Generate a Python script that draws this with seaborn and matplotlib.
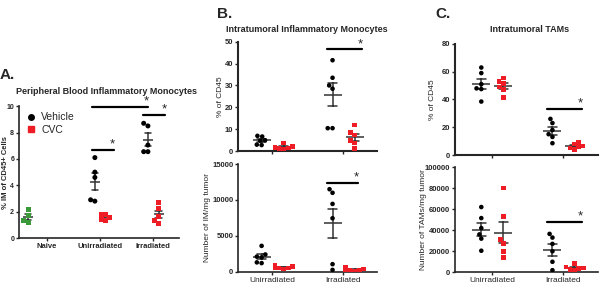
import warnings
import pandas as pd
import matplotlib
matplotlib.use('Agg')
import matplotlib.pyplot as plt
from matplotlib.lines import Line2D
from matplotlib.markers import MarkerStyle
import seaborn as sns

warnings.filterwarnings('ignore')

# ---- data ----
conds_a = ['Naive', 'Unirradiated', 'Irradiated']
conds_bc = ['Unirradiated', 'Irradiated']

# A. peripheral blood IM (% of CD45+)
a_naive = [2.17, 1.69, 1.34, 1.16]
a_unirr_veh = [6.1, 5.0, 4.6, 2.8, 2.9]
a_unirr_cvc = [1.8, 1.75, 1.55, 1.35, 1.4]
a_irr_veh = [8.5, 8.7, 7.05, 6.55, 6.55]
a_irr_cvc = [2.7, 2.25, 1.6, 1.3, 1.1]

# B. intratumoral IM
b1_unirr_veh = [7.0, 6.7, 5.0, 4.8, 2.8, 3.0]
b1_unirr_cvc = [3.8, 2.2, 1.8, 1.5, 1.2, 1.0]
b1_irr_veh = [41.5, 33.5, 30.0, 28.5, 10.5, 10.5]
b1_irr_cvc = [11.9, 8.4, 7.3, 5.0, 3.8, 1.2]

b2_unirr_veh = [3600, 2400, 2000, 2100, 1200, 1300]
b2_unirr_cvc = [900, 700, 600, 500, 400, 500]
b2_irr_veh = [11500, 11000, 9450, 7450, 1050, 250]
b2_irr_cvc = [600, 400, 300, 200, 150, 100]

# C. intratumoral TAMs
c1_unirr_veh = [63, 59, 51, 48, 47.5, 38.5]
c1_unirr_cvc = [55.5, 53, 51.5, 49, 47, 41.5]
c1_irr_veh = [26, 23, 18, 15, 13, 8.5]
c1_irr_cvc = [9.5, 8, 6.5, 6, 5, 4]

c2_unirr_veh = [62000, 51500, 42000, 36000, 32000, 20500]
c2_unirr_cvc = [80000, 53000, 31000, 27500, 20000, 14000]
c2_irr_veh = [36500, 33000, 27000, 20000, 10000, 2000]
c2_irr_cvc = [8500, 5000, 4000, 3500, 2500, 1500]

# significance bars: (x0, x1, y)
sig_a = [(0.85, 1.9, 9.9), (0.85, 1.26, 6.67), (1.81, 2.23, 9.3)]
sig_b1 = [(0.77, 1.27, 46.4)]
sig_b2 = [(0.77, 1.21, 12430)]
sig_c1 = [(0.77, 1.27, 33)]
sig_c2 = [(0.77, 1.27, 48000)]

RED = '#ee1c24'
GREEN = '#3a9a3a'
palette = {'Naive': GREEN, 'Vehicle': 'black', 'CVC': RED}

sns.set_style('ticks')
plt.rcParams['font.family'] = ['Liberation Sans', 'DejaVu Sans']

fig = plt.figure(figsize=(6, 2.9), dpi=100)

circle = MarkerStyle('o')
circle_path = circle.get_path().transformed(circle.get_transform())


def build(groups, offsets):
	rows = []
	for cond_i, treat, vals in groups:
		for v in vals:
			rows.append({'treat': treat, 'pos': cond_i + offsets[treat], 'val': v})
	return pd.DataFrame(rows)


def draw(ax, df, size, mean_ms, capsize):
	sns.swarmplot(data=df, x='pos', y='val', hue='treat', palette=palette,
		native_scale=True, orient='x', marker='s', size=size, linewidth=0,
		legend=False, ax=ax)
	# vehicle groups get round markers
	for coll in ax.collections:
		fc = coll.get_facecolor()
		if len(fc) and tuple(fc[0][:3]) == (0.0, 0.0, 0.0):
			coll.set_paths([circle_path])
	sns.pointplot(data=df, x='pos', y='val', native_scale=True, orient='x',
		errorbar='se', color='#333333', markers='_', linestyles='none',
		markersize=mean_ms, markeredgewidth=1.1, capsize=capsize,
		err_kws={'linewidth': 1.1}, ax=ax)
	ax.set_xlabel('')
	ax.set_ylabel('')


def sig(ax, bars, dy, fs=9.5):
	for x0, x1, y in bars:
		ax.plot([x0, x1], [y, y], color='black', lw=1.6, clip_on=False)
		ax.text(x1 - 0.03, y + dy, '*', ha='center', va='center', fontsize=fs, clip_on=False)


def style_axes(ax, lw=1.2, fs=5.5):
	sns.despine(ax=ax)
	for s in ['left', 'bottom']:
		ax.spines[s].set_linewidth(lw)
	ax.tick_params(length=2.5, width=1, pad=1)
	for lab in ax.get_yticklabels():
		lab.set_fontsize(fs)
		lab.set_fontweight('bold')


# ---- panel A ----
axA = fig.add_axes([0.0317, 0.179, 0.267, 0.455])
dfA = build([(0, 'Naive', a_naive), (1, 'Vehicle', a_unirr_veh), (1, 'CVC', a_unirr_cvc),
	(2, 'Vehicle', a_irr_veh), (2, 'CVC', a_irr_cvc)],
	{'Naive': -0.36, 'Vehicle': -0.1, 'CVC': 0.1})
draw(axA, dfA, 3.6, 7, 0.6)
axA.set_xlim(-0.53, 2.49)
axA.set_ylim(0, 10)
axA.set_yticks(range(0, 11, 2))
axA.set_xticks(range(3))
axA.set_xticklabels(conds_a, fontsize=5.5, fontweight='bold')
style_axes(axA, fs=5)
axA.set_ylabel('% IM of CD45+ Cells', fontsize=5.5, fontweight='bold')
axA.yaxis.set_label_coords(-0.062, 0.5)
sig(axA, sig_a, 0.45)
handles = [Line2D([], [], marker='o', color='black', ls='none', ms=4),
	Line2D([], [], marker='s', color=RED, ls='none', ms=4)]
axA.legend(handles, ['Vehicle', 'CVC'], loc='upper left', frameon=False, fontsize=7.5,
	handletextpad=0.0, borderaxespad=0.2, labelspacing=0.25, bbox_to_anchor=(-0.03, 1.0))

# ---- panel B ----
off_bc = {'Vehicle': -0.15, 'CVC': 0.16}
axB1 = fig.add_axes([0.397, 0.4786, 0.2317, 0.378])
dfB1 = build([(0, 'Vehicle', b1_unirr_veh), (0, 'CVC', b1_unirr_cvc),
	(1, 'Vehicle', b1_irr_veh), (1, 'CVC', b1_irr_cvc)], off_bc)
draw(axB1, dfB1, 3.3, 13, 0.4)
axB1.set_xlim(-0.48, 1.48)
axB1.set_ylim(0, 50)
axB1.set_yticks(range(0, 51, 10))
axB1.set_xticks([0, 1])
axB1.set_xticklabels([])
style_axes(axB1, 1.5)
axB1.set_ylabel('% of CD45', fontsize=6)
axB1.yaxis.set_label_coords(-0.10, 0.5)
sig(axB1, sig_b1, 2.5)

axB2 = fig.add_axes([0.397, 0.0631, 0.2317, 0.371])
dfB2 = build([(0, 'Vehicle', b2_unirr_veh), (0, 'CVC', b2_unirr_cvc),
	(1, 'Vehicle', b2_irr_veh), (1, 'CVC', b2_irr_cvc)], off_bc)
draw(axB2, dfB2, 3.3, 13, 0.4)
axB2.set_xlim(-0.48, 1.48)
axB2.set_ylim(0, 15000)
axB2.set_yticks([0, 5000, 10000, 15000])
axB2.set_xticks([0, 1])
axB2.set_xticklabels(conds_bc, fontsize=6)
style_axes(axB2)
axB2.set_ylabel('Number of IM/mg tumor', fontsize=6)
axB2.yaxis.set_label_coords(-0.195, 0.5)
sig(axB2, sig_b2, 750)

# ---- panel C ----
axC1 = fig.add_axes([0.7583, 0.4655, 0.2383, 0.383])
dfC1 = build([(0, 'Vehicle', c1_unirr_veh), (0, 'CVC', c1_unirr_cvc),
	(1, 'Vehicle', c1_irr_veh), (1, 'CVC', c1_irr_cvc)], off_bc)
draw(axC1, dfC1, 3.3, 13, 0.4)
axC1.set_xlim(-0.52, 1.49)
axC1.set_ylim(0, 80)
axC1.set_yticks(range(0, 81, 20))
axC1.set_xticks([0, 1])
axC1.set_xticklabels([])
style_axes(axC1, 1.5)
axC1.set_ylabel('% of CD45', fontsize=6)
axC1.yaxis.set_label_coords(-0.135, 0.5)
sig(axC1, sig_c1, 4)

axC2 = fig.add_axes([0.7583, 0.061, 0.2383, 0.363])
dfC2 = build([(0, 'Vehicle', c2_unirr_veh), (0, 'CVC', c2_unirr_cvc),
	(1, 'Vehicle', c2_irr_veh), (1, 'CVC', c2_irr_cvc)], off_bc)
draw(axC2, dfC2, 3.3, 13, 0.4)
axC2.set_xlim(-0.52, 1.49)
axC2.set_ylim(0, 100000)
axC2.set_yticks(range(0, 100001, 20000))
axC2.set_xticks([0, 1])
axC2.set_xticklabels(conds_bc, fontsize=6)
style_axes(axC2)
axC2.set_ylabel('Number of TAMs/mg tumor', fontsize=6)
axC2.yaxis.set_label_coords(-0.195, 0.5)
sig(axC2, sig_c2, 5000)

# titles and panel letters
fig.text(0.178, 0.683, 'Peripheral Blood Inflammatory Monocytes', ha='center', va='center',
	fontsize=6.5, fontweight='bold')
fig.text(0.512, 0.90, 'Intratumoral Inflammatory Monocytes', ha='center', va='center',
	fontsize=6.5, fontweight='bold')
fig.text(0.883, 0.90, 'Intratumoral TAMs', ha='center', va='center',
	fontsize=6.5, fontweight='bold')
fig.text(0.0, 0.742, 'A.', ha='left', va='center', fontsize=11, fontweight='bold')
fig.text(0.361, 0.953, 'B.', ha='left', va='center', fontsize=11, fontweight='bold')
fig.text(0.725, 0.953, 'C.', ha='left', va='center', fontsize=11, fontweight='bold')

fig.savefig('out.png', dpi=100)
